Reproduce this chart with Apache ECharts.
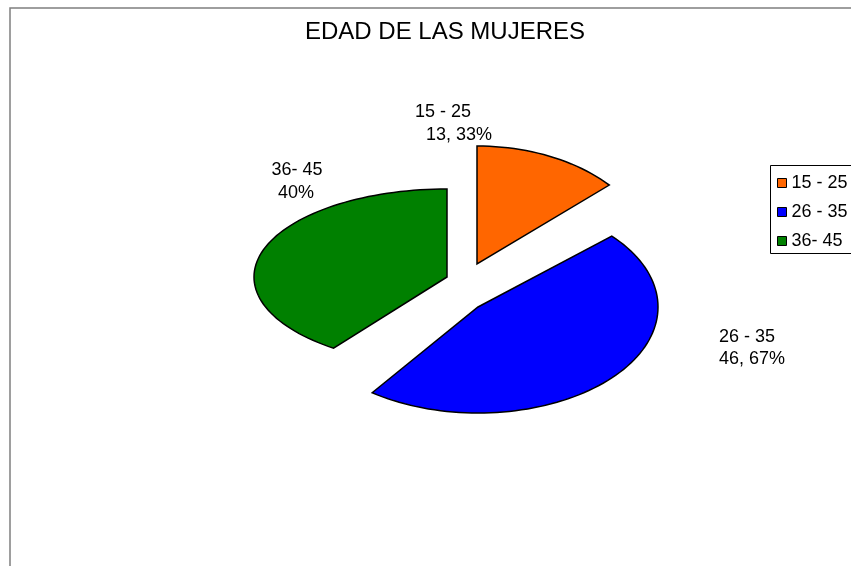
<!DOCTYPE html>
<html>
<head>
<meta charset="utf-8">
<script src="https://cdn.jsdelivr.net/npm/echarts@6/dist/echarts.min.js"></script>
<style>
  html, body { margin: 0; padding: 0; background: #fff; }
  #main { width: 851px; height: 566px; }
</style>
</head>
<body>
<div id="main"></div>
<script>
// datos
var categories = ['15 - 25', '26 - 35', '36- 45'];
var values = [2, 7, 6];
var colors = ['#FF6600', '#0000FF', '#008000'];

// layout of the tilted (elliptic) exploded pie
var pieCenter = [465, 290];
var explode = [[12, -26], [13, 17], [-18, -13]];
var radiusX = [178, 180, 193];
var radiusY = [118, 106, 88];
// label anchor for each line: [name line, percent line]
var labelPos = [
  [[443, 112], [459, 135]],
  [[747, 337], [752, 359]],
  [[297, 170], [296, 193]]
];
var FONT = '"Liberation Sans", Arial, sans-serif';

var total = values.reduce(function (a, b) { return a + b; }, 0);

function pctText(v) {
  var p = (v / total * 100).toFixed(2);
  p = p.replace(/\.?0+$/, '');
  return p.replace('.', ', ') + '%';
}

function renderSlice(i) {
  return function (params, api) {
    var before = 0;
    for (var k = 0; k < i; k++) before += values[k];
    var a0 = before / total * Math.PI * 2;
    var a1 = (before + api.value(0)) / total * Math.PI * 2;
    var vx = pieCenter[0] + explode[i][0];
    var vy = pieCenter[1] + explode[i][1];
    var pts = [[vx, vy]];
    var n = Math.max(8, Math.round((a1 - a0) / Math.PI * 90));
    for (var s = 0; s <= n; s++) {
      var a = a0 + (a1 - a0) * s / n;
      pts.push([vx + radiusX[i] * Math.sin(a), vy - radiusY[i] * Math.cos(a)]);
    }
    var lines = [categories[i], pctText(api.value(0))];
    var children = [{
      type: 'polygon',
      shape: { points: pts },
      style: { fill: colors[i], stroke: '#000', lineWidth: 1.5 }
    }];
    lines.forEach(function (t, j) {
      children.push({
        type: 'text',
        x: labelPos[i][j][0],
        y: labelPos[i][j][1],
        style: {
          text: t,
          fill: '#000',
          font: '18px ' + FONT,
          align: 'center',
          verticalAlign: 'middle',
          textAlign: 'center',
          textVerticalAlign: 'middle'
        }
      });
    });
    return { type: 'group', children: children };
  };
}

var chart = echarts.init(document.getElementById('main'));
chart.setOption({
  animation: false,
  backgroundColor: '#fff',
  title: {
    text: 'EDAD DE LAS MUJERES',
    left: 440,
    top: 15,
    textAlign: 'center',
    textStyle: { fontSize: 24, fontWeight: 'normal', color: '#000', fontFamily: FONT }
  },
  legend: {
    orient: 'vertical',
    left: 770,
    top: 165,
    padding: [9, 0, 5, 7],
    itemWidth: 9,
    itemHeight: 9,
    itemGap: 11,
    icon: 'rect',
    selectedMode: false,
    textStyle: { fontSize: 18, color: '#000', fontFamily: FONT },
    data: categories.map(function (c, i) {
      return { name: c, itemStyle: { color: colors[i], borderColor: '#000', borderWidth: 1 } };
    })
  },
  graphic: [{
    // chart area frame
    type: 'rect',
    shape: { x: 10, y: 8, width: 900, height: 600 },
    style: { fill: 'none', stroke: '#7f7f7f', lineWidth: 1.5 },
    silent: true
  }, {
    // legend box, runs past the right edge
    type: 'rect',
    shape: { x: 770.5, y: 165.5, width: 120, height: 88 },
    style: { fill: 'none', stroke: '#000', lineWidth: 1 },
    silent: true
  }],
  series: categories.map(function (c, i) {
    return {
      type: 'custom',
      name: c,
      coordinateSystem: 'none',
      silent: true,
      itemStyle: { color: colors[i] },
      data: [values[i]],
      renderItem: renderSlice(i)
    };
  })
});
</script>
</body>
</html>
